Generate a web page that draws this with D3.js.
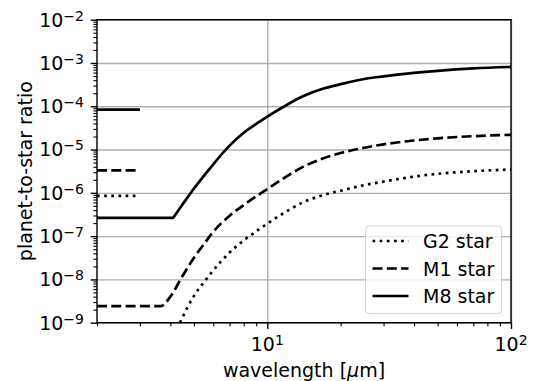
<!DOCTYPE html>
<html>
<head>
<meta charset="utf-8">
<script src="https://cdn.jsdelivr.net/npm/d3@7"></script>
<style>
  html, body { margin: 0; padding: 0; background: #fff; }
  svg { display: block; font-family: "DejaVu Sans", sans-serif; }
</style>
</head>
<body>
<div id="chart"></div>
<script>
const WIDTH = 536;
const HEIGHT = 381;
const plot = { left: 97, right: 511, top: 19.7, bottom: 322.7 };
const FONT = 19;

// values
const starNames = ['G2 star', 'M1 star', 'M8 star'];

const g2Wave = [4.38, 4.5, 5, 5.5, 6, 7, 8, 9, 10, 12, 14, 17, 20, 25, 30, 40, 50, 70, 100];
const g2Ratio = [1.0e-9, 1.38e-9, 4.17e-9, 8.7e-9, 1.62e-8, 4.17e-8, 7.94e-8, 1.29e-7, 1.95e-7,
  3.72e-7, 6.03e-7, 8.91e-7, 1.12e-6, 1.51e-6, 1.82e-6, 2.37e-6, 2.75e-6, 3.16e-6, 3.47e-6];

const m1Wave = [2, 3.66, 4, 4.5, 5, 5.5, 6, 7, 8, 9, 10, 12, 14, 17, 20, 25, 30, 40, 50, 70, 100];
const m1Ratio = [2.42e-9, 2.42e-9, 4.0e-9, 1.23e-8, 3.16e-8, 6.6e-8, 1.26e-7, 2.95e-7, 5.25e-7,
  8.3e-7, 1.23e-6, 2.4e-6, 3.98e-6, 6.3e-6, 8.3e-6, 1.10e-5, 1.32e-5, 1.62e-5, 1.82e-5, 2.04e-5, 2.19e-5];

const m8FloorWave = [2, 4.11];
const m8FloorRatio = [2.65e-7, 2.65e-7];
const m8Wave = [4.11, 4.5, 5, 5.5, 6, 7, 8, 9, 10, 12, 14, 17, 20, 25, 30, 40, 50, 70, 100];
const m8Ratio = [2.65e-7, 5.5e-7, 1.26e-6, 2.5e-6, 4.57e-6, 1.23e-5, 2.45e-5, 3.9e-5, 5.75e-5,
  1.07e-4, 1.7e-4, 2.57e-4, 3.24e-4, 4.27e-4, 4.9e-4, 5.9e-4, 6.6e-4, 7.5e-4, 8.1e-4];

// short marks at the left edge (G2, M1, M8)
const markWave = [2, 3];
const markRatio = [8.5e-7, 3.3e-6, 8.4e-5];

const xMajor = [10, 100];
const yMajor = [1e-9, 1e-8, 1e-7, 1e-6, 1e-5, 1e-4, 1e-3, 1e-2];

const dashes = ['2.7,4.45', '10,4.3', null];

const xMinor = [];
[1, 10].forEach((d) => { for (let k = 2; k <= 9; k++) xMinor.push(k * d); });
const yMinor = [];
for (let e = -9; e < -2; e++) { for (let k = 2; k <= 9; k++) yMinor.push(k * Math.pow(10, e)); }

const svg = d3.select('#chart').append('svg')
  .attr('width', WIDTH)
  .attr('height', HEIGHT);

const x = d3.scaleLog().domain([2, 100]).range([plot.left, plot.right]);
const y = d3.scaleLog().domain([1e-9, 1e-2]).range([plot.bottom, plot.top]);
const plotW = plot.right - plot.left;
const plotH = plot.bottom - plot.top;

svg.append('defs').append('clipPath').attr('id', 'clip')
  .append('rect')
  .attr('x', plot.left).attr('y', plot.top)
  .attr('width', plotW).attr('height', plotH);

// grid
svg.append('g')
  .attr('transform', `translate(0, ${plot.bottom})`)
  .call(d3.axisBottom(x).tickValues(xMajor).tickSize(-plotH).tickFormat(''))
  .call((g) => g.select('.domain').remove())
  .call((g) => g.selectAll('line').attr('stroke', '#b0b0b0').attr('stroke-width', 1.4));
svg.append('g')
  .attr('transform', `translate(${plot.left}, 0)`)
  .call(d3.axisLeft(y).tickValues(yMajor).tickSize(-plotW).tickFormat(''))
  .call((g) => g.select('.domain').remove())
  .call((g) => g.selectAll('line').attr('stroke', '#b0b0b0').attr('stroke-width', 1.4));

// lines
const zip = (a, b) => a.map((v, i) => [v, b[i]]);
const lineLin = d3.line().x((d) => x(d[0])).y((d) => y(d[1]));
const lineSmooth = d3.line().x((d) => x(d[0])).y((d) => y(d[1])).curve(d3.curveMonotoneX);

const lines = svg.append('g').attr('clip-path', 'url(#clip)');

const curvePaths = [
  lineSmooth(zip(g2Wave, g2Ratio)),
  lineSmooth(zip(m1Wave, m1Ratio)),
  lineLin(zip(m8FloorWave, m8FloorRatio)) + lineSmooth(zip(m8Wave, m8Ratio)).replace(/^M/, 'L'),
];

curvePaths.forEach((d, i) => {
  lines.append('path')
    .attr('d', d)
    .attr('fill', 'none')
    .attr('stroke', '#000')
    .attr('stroke-width', 2.7)
    .attr('stroke-linejoin', 'round')
    .attr('stroke-dasharray', dashes[i]);
});

markRatio.forEach((r, i) => {
  lines.append('path')
    .attr('d', lineLin(zip(markWave, [r, r])))
    .attr('fill', 'none')
    .attr('stroke', '#000')
    .attr('stroke-width', 2.7)
    .attr('stroke-dasharray', dashes[i]);
});

// spines
svg.append('rect')
  .attr('x', plot.left).attr('y', plot.top)
  .attr('width', plotW).attr('height', plotH)
  .attr('fill', 'none')
  .attr('stroke', '#000')
  .attr('stroke-width', 1.4);

// ticks
const styleTicks = (w) => (g) => {
  g.select('.domain').remove();
  g.selectAll('line').attr('stroke', '#000').attr('stroke-width', w);
};
svg.append('g')
  .attr('transform', `translate(0, ${plot.bottom})`)
  .call(d3.axisBottom(x).tickValues(xMajor).tickSize(6.3).tickFormat(''))
  .call(styleTicks(1.4));
svg.append('g')
  .attr('transform', `translate(0, ${plot.bottom})`)
  .call(d3.axisBottom(x).tickValues(xMinor).tickSize(3.6).tickFormat(''))
  .call(styleTicks(1.1));
svg.append('g')
  .attr('transform', `translate(${plot.left}, 0)`)
  .call(d3.axisLeft(y).tickValues(yMajor).tickSize(6.3).tickFormat(''))
  .call(styleTicks(1.4));
svg.append('g')
  .attr('transform', `translate(${plot.left}, 0)`)
  .call(d3.axisLeft(y).tickValues(yMinor).tickSize(3.6).tickFormat(''))
  .call(styleTicks(1.1));

// tick labels as 10^n
function powLabel(sel, v) {
  const e = Math.round(Math.log10(v));
  sel.append('tspan').text('10');
  sel.append('tspan')
    .attr('dy', -6)
    .attr('font-size', 14)
    .text(e < 0 ? '\u2212' + (-e) : String(e));
}

svg.append('g').selectAll('text')
  .data(yMajor)
  .join('text')
  .attr('x', plot.left - 13)
  .attr('y', (d) => y(d) + 6.8)
  .attr('text-anchor', 'end')
  .attr('font-size', FONT)
  .attr('fill', '#000')
  .each(function (d) { powLabel(d3.select(this), d); });

svg.append('g').selectAll('text')
  .data(xMajor)
  .join('text')
  .attr('x', (d) => x(d))
  .attr('y', 350.8)
  .attr('text-anchor', 'middle')
  .attr('font-size', FONT)
  .attr('fill', '#000')
  .each(function (d) { powLabel(d3.select(this), d); });

// axis titles
const xTitle = svg.append('text')
  .attr('x', (plot.left + plot.right) / 2)
  .attr('y', 377)
  .attr('text-anchor', 'middle')
  .attr('font-size', FONT);
xTitle.append('tspan').text('wavelength [');
xTitle.append('tspan').attr('font-style', 'italic').text('\u03bc');
xTitle.append('tspan').text('m]');

svg.append('text')
  .attr('transform', `translate(32, ${(plot.top + plot.bottom) / 2}) rotate(-90)`)
  .attr('text-anchor', 'middle')
  .attr('font-size', FONT)
  .text('planet-to-star ratio');

// legend
const legend = svg.append('g');
legend.append('rect')
  .attr('x', 365.5).attr('y', 226)
  .attr('width', 136).attr('height', 87.5)
  .attr('rx', 3.5)
  .attr('fill', '#fff').attr('fill-opacity', 0.8)
  .attr('stroke', '#cccccc').attr('stroke-opacity', 0.8)
  .attr('stroke-width', 1);

const rows = legend.selectAll('g.row')
  .data(starNames)
  .join('g')
  .attr('class', 'row')
  .attr('transform', (d, i) => `translate(0, ${241 + i * 27.5})`);
rows.append('line')
  .attr('x1', 372.5).attr('x2', 408.5)
  .attr('stroke', '#000')
  .attr('stroke-width', 2.7)
  .attr('stroke-dasharray', (d, i) => dashes[i]);
rows.append('text')
  .attr('x', 423)
  .attr('y', 7)
  .attr('font-size', FONT)
  .text((d) => d);
</script>
</body>
</html>
